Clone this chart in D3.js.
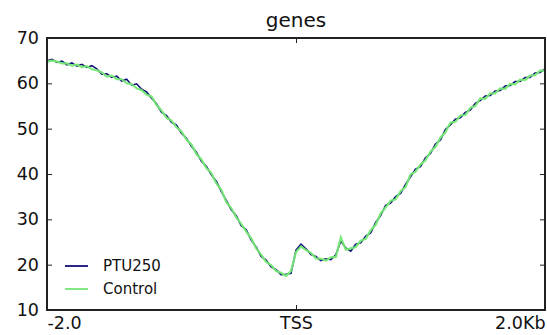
<!DOCTYPE html>
<html><head><meta charset="utf-8">
<script src="https://cdn.jsdelivr.net/npm/d3@7"></script>
<style>body{margin:0;background:#fff}svg{display:block}text{font-family:"DejaVu Sans",sans-serif}</style>
</head><body>
<script>
const positions = d3.range(-2000, 2001, 40);
const ptu250 = [65.0,65.3,64.6,64.9,64.1,64.5,63.8,64.2,63.5,63.9,
63.2,62.0,62.1,61.3,61.6,60.5,60.9,59.6,59.9,58.7,
58.1,56.7,55.5,53.6,52.9,51.4,50.8,49.0,47.9,46.1,
44.8,42.8,41.7,39.8,38.4,36.1,34.2,32.1,30.8,28.6,
27.7,25.4,23.9,21.8,21.0,19.5,18.9,17.8,17.9,18.1,
23.2,24.5,23.5,22.2,21.8,20.9,21.3,21.1,22.2,25.2,
23.7,23.0,24.5,24.8,26.3,27.0,29.3,30.8,33.1,33.6,
35.0,35.7,37.7,39.4,41.1,41.6,43.6,44.5,46.6,47.5,
49.8,50.8,52.1,52.4,53.6,54.1,55.6,56.2,57.2,57.3,
58.3,58.4,59.4,59.5,60.4,60.4,61.3,61.3,62.3,62.4,63.2];
const control = [64.8,65.0,64.8,64.4,64.4,63.9,64.1,63.6,63.8,63.1,
62.9,62.4,61.5,61.7,60.9,60.9,60.0,59.8,58.9,58.5,
57.5,57.1,55.2,54.0,52.4,51.8,50.3,49.4,47.6,46.5,
44.4,43.2,41.3,40.2,37.9,36.5,33.8,32.5,30.4,29.0,
27.3,25.8,23.6,22.2,20.6,19.9,18.6,18.2,17.5,18.6,
22.8,24.0,23.2,22.6,21.4,21.3,20.9,21.6,21.7,26.0,
23.3,23.6,23.9,25.3,25.7,27.6,28.8,31.3,32.6,34.1,
34.4,36.2,37.1,39.9,40.5,42.1,43.0,44.9,46.0,48.0,
49.2,51.3,51.5,52.9,53.0,54.6,55.0,56.7,56.6,57.8,
57.8,58.9,58.8,59.9,59.8,60.8,60.7,61.7,61.8,62.8,62.8];
const yTicks = [10,20,30,40,50,60,70];
const xTicks = [-2000, 0, 2000];
const xTickLabels = ["-2.0", "TSS", "2.0Kb"];
const title = "genes";
const seriesNames = ["PTU250", "Control"];
const colors = ["#10107a", "#74e874"];

const W = 547, H = 335;
const L = 47, R = 545, T = 38, B = 310;
const svg = d3.select("body").append("svg").attr("width", W).attr("height", H);
const x = d3.scaleLinear().domain([-2000, 2000]).range([L, R]);
const y = d3.scaleLinear().domain([10, 70]).range([B, T]);

const line = vals => d3.line().x((d,i)=>x(positions[i])).y(d=>y(d))(vals);
svg.append("path").attr("d", line(ptu250)).attr("fill","none").attr("stroke",colors[0]).attr("stroke-width",1.6);
svg.append("path").attr("d", line(control)).attr("fill","none").attr("stroke",colors[1]).attr("stroke-width",2.2).attr("stroke-opacity",0.95);

// axes
const yl = svg.append("g").attr("transform",`translate(${L},0)`).call(d3.axisLeft(y).tickValues(yTicks).tickSize(-5).tickPadding(8));
const yr = svg.append("g").attr("transform",`translate(${R},0)`).call(d3.axisRight(y).tickValues(yTicks).tickSize(-5).tickFormat(""));
const xb = svg.append("g").attr("transform",`translate(0,${B})`).call(d3.axisBottom(x).tickValues(xTicks).tickSize(-5).tickPadding(6).tickFormat((d,i)=>xTickLabels[i]));
const xt = svg.append("g").attr("transform",`translate(0,${T})`).call(d3.axisTop(x).tickValues(xTicks).tickSize(-5).tickFormat(""));
[yl,yr,xb,xt].forEach(g=>{g.select(".domain").remove(); g.selectAll("line").attr("stroke","#222");});
yl.selectAll("text").attr("font-size",17.5).attr("fill","#111").attr("font-family","DejaVu Sans");
xb.selectAll("text").attr("font-size",17.5).attr("fill","#111").attr("font-family","DejaVu Sans").attr("dy","0.75em")
  .attr("text-anchor",(d,i)=> i===0?"start":(i===2?"end":"middle"));
svg.append("rect").attr("x",L).attr("y",T).attr("width",R-L).attr("height",B-T).attr("fill","none").attr("stroke","#222").attr("stroke-width",2);

svg.append("text").attr("x",(L+R)/2).attr("y",27).attr("text-anchor","middle").attr("font-size",20).attr("fill","#111").text(title);

// legend
seriesNames.forEach((n,i)=>{
  const ly = 266 + i*23;
  svg.append("line").attr("x1",65).attr("x2",88).attr("y1",ly).attr("y2",ly).attr("stroke",colors[i]).attr("stroke-width",1.8);
  svg.append("text").attr("x",103).attr("y",ly).attr("dy","0.36em").attr("font-size",15).attr("fill","#111").text(n);
});
</script>
</body></html>
